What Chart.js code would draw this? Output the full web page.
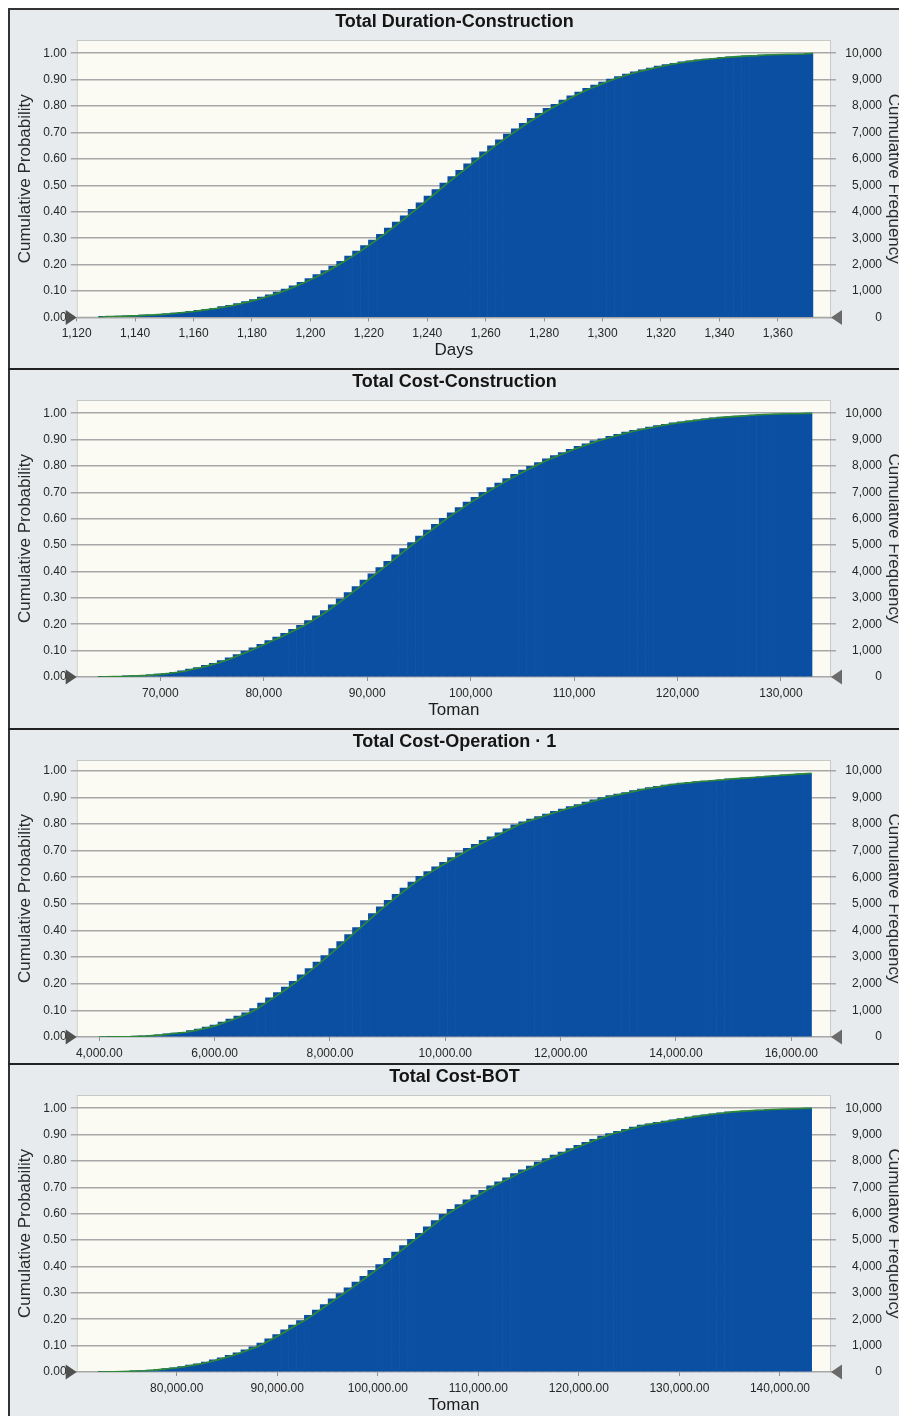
<!DOCTYPE html>
<html>
<head>
<meta charset="utf-8">
<script src="https://cdn.jsdelivr.net/npm/chart.js@4.4.1/dist/chart.umd.min.js"></script>
<style>
html, body { margin: 0; padding: 0; background: #fff; width: 899px; height: 1416px; overflow: hidden; }
#frame { position: absolute; left: 8px; top: 8px; width: 900px; height: 1420px; background: #e8ebed;
         border-left: 2px solid #333; border-top: 2px solid #333; }
.sep { position: absolute; left: 8px; width: 900px; height: 2px; background: #222; }
canvas { position: absolute; left: 10px; }
</style>
</head>
<body>
<div id="frame"></div>
<canvas id="c1" width="889" height="358" style="top:10px"></canvas>
<div class="sep" style="top:368px"></div>
<canvas id="c2" width="889" height="358" style="top:370px"></canvas>
<div class="sep" style="top:728px"></div>
<canvas id="c3" width="889" height="333" style="top:730px"></canvas>
<div class="sep" style="top:1063px"></div>
<canvas id="c4" width="889" height="351" style="top:1065px"></canvas>
<script>
// tick labels shared by all four panels
var probTicks = [0, 0.1, 0.2, 0.3, 0.4, 0.5, 0.6, 0.7, 0.8, 0.9, 1.0];
var freqTicks = [0, 1000, 2000, 3000, 4000, 5000, 6000, 7000, 8000, 9000, 10000];

// Total Duration-Construction (days)
var durBins = [1127.5, 1372];
var durTicks = [1120, 1140, 1160, 1180, 1200, 1220, 1240, 1260, 1280, 1300, 1320, 1340, 1360];
var durCum = [
  0.004,0.004,0.005,0.006,0.007,0.009,0.010,0.012,0.014,0.017,
  0.020,0.023,0.027,0.031,0.035,0.041,0.046,0.053,0.060,0.068,
  0.077,0.086,0.096,0.108,0.120,0.133,0.147,0.162,0.178,0.195,
  0.213,0.232,0.251,0.272,0.293,0.315,0.338,0.361,0.385,0.409,
  0.434,0.459,0.484,0.509,0.533,0.557,0.581,0.604,0.627,0.650,
  0.672,0.694,0.714,0.735,0.754,0.773,0.791,0.807,0.823,0.839,
  0.853,0.867,0.879,0.891,0.902,0.912,0.921,0.930,0.937,0.944,
  0.951,0.957,0.962,0.967,0.971,0.975,0.978,0.981,0.984,0.986,
  0.988,0.990,0.991,0.993,0.994,0.995,0.996,0.996,0.997,1.000
];

// Total Cost-Construction (Toman)
var conBins = [64000, 133000];
var conTicks = [70000, 80000, 90000, 100000, 110000, 120000, 130000];
var conCum = [
  0.001,0.002,0.002,0.004,0.005,0.006,0.008,0.011,0.014,0.018,
  0.023,0.030,0.036,0.044,0.052,0.062,0.073,0.085,0.098,0.111,
  0.124,0.138,0.151,0.166,0.181,0.196,0.214,0.232,0.252,0.274,
  0.296,0.320,0.343,0.367,0.391,0.415,0.438,0.463,0.487,0.510,
  0.534,0.557,0.579,0.601,0.622,0.642,0.663,0.681,0.700,0.718,
  0.735,0.752,0.768,0.784,0.799,0.813,0.827,0.839,0.851,0.863,
  0.874,0.884,0.895,0.903,0.912,0.920,0.928,0.935,0.941,0.947,
  0.953,0.958,0.963,0.967,0.971,0.975,0.979,0.982,0.985,0.987,
  0.989,0.991,0.993,0.995,0.996,0.997,0.998,0.998,0.999,1.000
];

// Total Cost-Operation · 1
var opBins = [4000, 16350];
var opTicks = [4000, 6000, 8000, 10000, 12000, 14000, 16000];
var opCum = [
  0.000,0.001,0.001,0.001,0.003,0.004,0.006,0.008,0.012,0.015,
  0.018,0.024,0.030,0.037,0.045,0.056,0.067,0.079,0.091,0.107,
  0.127,0.147,0.167,0.187,0.209,0.233,0.257,0.281,0.306,0.332,
  0.358,0.385,0.411,0.437,0.463,0.489,0.513,0.536,0.559,0.582,
  0.603,0.621,0.639,0.656,0.674,0.691,0.708,0.723,0.738,0.752,
  0.767,0.782,0.797,0.808,0.818,0.828,0.837,0.847,0.856,0.865,
  0.873,0.882,0.890,0.899,0.906,0.912,0.918,0.925,0.931,0.936,
  0.941,0.946,0.950,0.953,0.956,0.959,0.961,0.964,0.966,0.969,
  0.971,0.973,0.975,0.977,0.980,0.982,0.984,0.986,0.988,0.990
];

// Total Cost-BOT
var botBins = [72200, 143150];
var botTicks = [80000, 90000, 100000, 110000, 120000, 130000, 140000];
var botCum = [
  0.001,0.001,0.002,0.003,0.004,0.005,0.007,0.010,0.013,0.016,
  0.021,0.026,0.031,0.038,0.046,0.054,0.063,0.073,0.084,0.095,
  0.110,0.126,0.142,0.160,0.178,0.195,0.215,0.235,0.256,0.277,
  0.297,0.319,0.341,0.363,0.385,0.407,0.431,0.455,0.479,0.503,
  0.526,0.550,0.574,0.598,0.617,0.635,0.653,0.671,0.689,0.706,
  0.721,0.736,0.752,0.766,0.781,0.796,0.809,0.822,0.834,0.847,
  0.859,0.871,0.882,0.894,0.904,0.912,0.920,0.928,0.936,0.941,
  0.946,0.951,0.956,0.961,0.966,0.971,0.975,0.979,0.982,0.986,
  0.988,0.990,0.992,0.993,0.995,0.996,0.997,0.998,0.999,1.000
];

var FONT = '"Liberation Sans", Arial, sans-serif';

// cream plot area, border and the two certainty grabbers at 0
var plotDecor = {
  id: 'plotDecor',
  beforeDraw: function (chart) {
    var ctx = chart.ctx, a = chart.chartArea;
    ctx.save();
    ctx.fillStyle = '#fbfaf3';
    ctx.fillRect(a.left, a.top, a.right - a.left, a.bottom - a.top);
    ctx.strokeStyle = '#c6cac6';
    ctx.lineWidth = 1;
    ctx.strokeRect(a.left + 0.5, a.top + 0.5, a.right - a.left - 1, a.bottom - a.top - 1);
    ctx.restore();
  },
  afterDraw: function (chart) {
    var ctx = chart.ctx, a = chart.chartArea;
    var y0 = chart.scales.y.getPixelForValue(0);
    ctx.save();
    ctx.fillStyle = '#505050';
    ctx.beginPath();
    ctx.moveTo(a.left - 11, y0 - 7.5);
    ctx.lineTo(a.left, y0);
    ctx.lineTo(a.left - 11, y0 + 7.5);
    ctx.closePath();
    ctx.fill();
    ctx.fillStyle = '#6a6a6a';
    ctx.beginPath();
    ctx.moveTo(a.right + 11, y0 - 7.5);
    ctx.lineTo(a.right, y0);
    ctx.lineTo(a.right + 11, y0 + 7.5);
    ctx.closePath();
    ctx.fill();
    ctx.restore();
  }
};

function fmtNum(v, dec) {
  return v.toLocaleString('en-US', { minimumFractionDigits: dec, maximumFractionDigits: dec });
}

function makePanel(id, p) {
  var n = p.cum.length;
  var w = (p.bins[1] - p.bins[0]) / n;
  var bars = p.cum.map(function (v, i) { return { x: p.bins[0] + (i + 0.5) * w, y: v }; });
  var curve = [{ x: p.bins[0], y: 0 }].concat(p.cum.map(function (v, i) {
    return { x: p.bins[0] + (i + 1) * w, y: v };
  }));

  return new Chart(document.getElementById(id), {
    type: 'bar',
    data: {
      datasets: [
        { type: 'line', data: curve, borderColor: '#2f8a37', borderWidth: 1.6,
          pointRadius: 0, tension: 0, order: 0, yAxisID: 'y' },
        { type: 'bar', data: bars, backgroundColor: '#0b4fa3', borderWidth: 0,
          barPercentage: 1, categoryPercentage: 1, order: 1, yAxisID: 'y' }
      ]
    },
    options: {
      responsive: false,
      animation: false,
      devicePixelRatio: 1,
      layout: { padding: { left: 17, right: 17, top: 0, bottom: 0 } },
      plugins: {
        legend: { display: false },
        tooltip: { enabled: false },
        title: {
          display: true, text: p.title, color: '#151515',
          font: { family: FONT, size: 18, weight: 'bold' },
          padding: { top: 1.2, bottom: 7.2 }
        }
      },
      scales: {
        x: {
          type: 'linear', min: p.axis[0], max: p.axis[1], offset: false,
          afterBuildTicks: function (s) { s.ticks = p.ticks.map(function (v) { return { value: v }; }); },
          afterFit: function (s) { s.height = p.xh; },
          grid: { drawOnChartArea: false, offset: false, tickLength: 4, color: '#8f8f8f' },
          border: { display: false },
          ticks: {
            autoSkip: false, maxRotation: 0, padding: 5, color: '#262626',
            font: { family: FONT, size: 12 },
            callback: function (v) { return fmtNum(v, p.dec); }
          },
          title: {
            display: !!p.xTitle, text: p.xTitle || '', color: '#1c1c1c',
            font: { family: FONT, size: 17 },
            padding: { top: 0, bottom: p.xTitlePad }
          }
        },
        y: {
          position: 'left', min: 0, max: p.yTop,
          afterBuildTicks: function (s) { s.ticks = probTicks.map(function (v) { return { value: v }; }); },
          afterFit: function (s) { s.width = 49.7; },
          grid: { color: '#a7a7a7', lineWidth: 1.5, tickLength: 6 },
          border: { display: false },
          ticks: {
            padding: 4, color: '#262626', font: { family: FONT, size: 12 },
            callback: function (v) { return v.toFixed(2); }
          },
          title: {
            display: true, text: 'Cumulative Probability', color: '#2a2a2a',
            font: { family: FONT, size: 17 },
            padding: { top: -11.7, bottom: 0 }
          }
        },
        y2: {
          position: 'right', min: 0, max: p.yTop * 10000,
          afterBuildTicks: function (s) { s.ticks = freqTicks.map(function (v) { return { value: v }; }); },
          afterFit: function (s) { s.width = 51; },
          grid: { drawOnChartArea: false, color: '#a7a7a7', lineWidth: 1.5, tickLength: 5 },
          border: { display: false },
          ticks: {
            crossAlign: 'far', color: '#262626', font: { family: FONT, size: 12 },
            callback: function (v) { return fmtNum(v, 0); }
          },
          title: {
            display: true, text: 'Cumulative Frequency', color: '#2a2a2a',
            font: { family: FONT, size: 17 },
            padding: { top: -21.7, bottom: 0 }
          }
        }
      }
    },
    plugins: [plotDecor]
  });
}

makePanel('c1', { title: 'Total Duration-Construction', xTitle: 'Days', xTitlePad: 7.8, xh: 50.5,
  bins: durBins, cum: durCum, ticks: durTicks, axis: [1120, 1378.2], dec: 0, yTop: 1.05 });
makePanel('c2', { title: 'Total Cost-Construction', xTitle: 'Toman', xTitlePad: 7.8, xh: 51,
  bins: conBins, cum: conCum, ticks: conTicks, axis: [61915, 134836], dec: 0, yTop: 1.05 });
makePanel('c3', { title: 'Total Cost-Operation \u00b7 1', xTitle: '', xTitlePad: 0, xh: 26,
  bins: opBins, cum: opCum, ticks: opTicks, axis: [3608, 16688], dec: 2, yTop: 1.04 });
makePanel('c4', { title: 'Total Cost-BOT', xTitle: 'Toman', xTitlePad: 0, xh: 44,
  bins: botBins, cum: botCum, ticks: botTicks, axis: [70050, 145075], dec: 2, yTop: 1.05 });
</script>
</body>
</html>
